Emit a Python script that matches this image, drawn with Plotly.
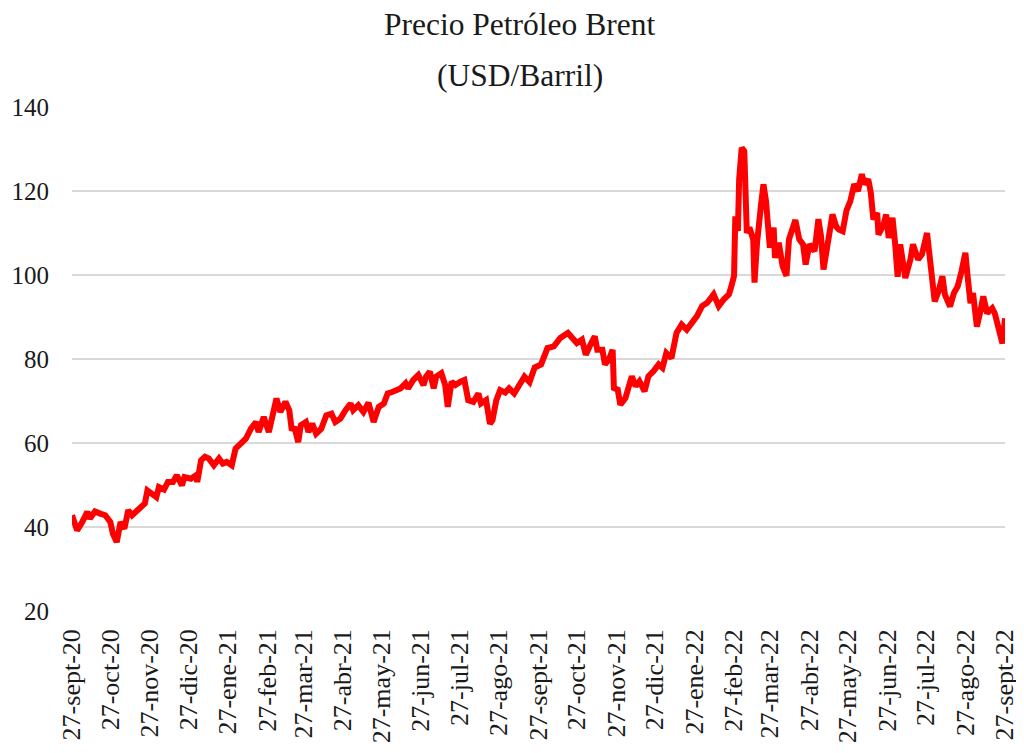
import plotly.graph_objects as go
import pandas as pd

# Brent daily price (day offset from 27-sept-2020, USD/barril)
START = "2020-09-27"
DAY = [0, 4, 8, 12, 14, 18, 22, 26, 30, 32, 35, 38, 41, 44, 47, 53, 57, 59, 66, 68,
       72, 75, 79, 82, 86, 88, 93, 97, 98, 101, 104, 107, 111, 115, 118, 121, 125, 128,
       132, 136, 140, 144, 146, 150, 154, 158, 160, 163, 167, 170, 172, 174, 177, 179,
       183, 185, 188, 191, 195, 199, 203, 206, 210, 214, 218, 220, 224, 228, 232, 236,
       240, 244, 247, 251, 257, 261, 263, 267, 271, 275, 277, 280, 283, 285, 289, 292,
       294, 297, 300, 304, 307, 310, 314, 318, 320, 324, 327, 329, 332, 335, 339, 342,
       346, 350, 354, 358, 362, 367, 372, 377, 382, 388, 391, 395, 399, 402, 405, 409,
       411, 415, 417, 420, 423, 424, 427, 429, 433, 436, 438, 441, 444, 448, 451, 455,
       459, 462, 465, 469, 473, 477, 481, 485, 489, 493, 497, 502, 506, 510, 514, 516,
       518, 519, 521, 522, 524, 526, 528, 530, 533, 534, 536, 539, 541, 543, 546, 549,
       550, 553, 556, 559, 561, 566, 569, 572, 574, 577, 581, 584, 586, 588, 592, 595,
       598, 600, 603, 606, 609, 612, 615, 618, 620, 623, 625, 627, 630, 631, 635, 637,
       639, 642, 644, 646, 648, 652, 656, 658, 662, 665, 669, 672, 675, 678, 681, 683,
       687, 690, 693, 696, 699, 701, 703, 705, 708, 711, 713, 716, 720, 722, 725, 728,
       730]
PRICE = [42.8, 39.2, 41.2, 43.6, 42.0, 43.7, 43.2, 42.8, 41.2, 38.4, 36.4, 41.2, 39.6,
         44.0, 42.8, 44.4, 45.6, 48.7, 47.1, 49.5, 48.9, 50.7, 50.7, 52.3, 49.9, 51.9,
         51.5, 52.3, 50.7, 55.9, 56.7, 56.3, 54.7, 56.3, 55.1, 55.5, 54.7, 58.7, 59.8,
         61.0, 63.4, 65.0, 62.6, 66.2, 62.6, 68.2, 70.6, 67.4, 69.8, 67.8, 63.0, 63.8,
         60.2, 64.2, 65.0, 62.6, 64.6, 62.2, 63.4, 66.6, 67.0, 65.0, 65.8, 67.8, 69.4,
         67.8, 69.0, 67.4, 69.6, 65.0, 68.6, 69.4, 71.8, 72.2, 73.0, 74.2, 73.0, 75.0,
         76.2, 73.8, 75.8, 77.0, 73.0, 75.8, 76.6, 73.8, 68.6, 74.6, 73.8, 74.6, 75.0,
         70.2, 69.8, 71.8, 69.4, 70.2, 64.6, 65.4, 70.2, 72.6, 72.0, 73.0, 71.8, 73.8,
         75.8, 74.5, 78.0, 78.7, 82.6, 83.0, 85.0, 86.2, 85.0, 83.8, 84.6, 81.0, 83.0,
         85.4, 82.2, 82.2, 78.7, 79.8, 82.2, 73.1, 72.7, 69.1, 70.7, 74.7, 75.9, 73.5,
         74.7, 72.3, 75.9, 77.1, 78.7, 77.9, 81.4, 80.2, 86.2, 88.2, 87.0, 88.6, 90.2,
         92.6, 93.4, 95.4, 92.6, 94.2, 95.4, 97.4, 99.8, 114.0, 110.5, 122.8, 130.3,
         129.5, 110.0, 111.3, 108.5, 98.2, 107.7, 116.4, 121.6, 117.6, 106.5, 111.3,
         104.1, 107.7, 102.1, 99.8, 108.5, 113.1, 108.5, 107.3, 102.5, 107.3, 105.7,
         113.3, 109.3, 101.3, 108.1, 114.4, 111.5, 110.8, 110.4, 115.4, 117.6, 121.6,
         120.0, 124.0, 121.6, 122.8, 119.6, 113.2, 114.8, 109.6, 112.0, 114.4, 108.8,
         113.6, 107.6, 99.6, 107.3, 99.3, 103.7, 107.3, 103.7, 104.9, 110.0, 101.3,
         93.7, 96.1, 99.7, 95.3, 92.5, 95.7, 97.3, 100.9, 105.3, 98.9, 93.3, 95.7, 87.7,
         91.7, 94.9, 90.9, 92.1, 90.9, 86.9, 83.7, 89.7]

TICK_DATES = ["2020-09-27", "2020-10-27", "2020-11-27", "2020-12-27", "2021-01-27",
              "2021-02-27", "2021-03-27", "2021-04-27", "2021-05-27", "2021-06-27",
              "2021-07-27", "2021-08-27", "2021-09-27", "2021-10-27", "2021-11-27",
              "2021-12-27", "2022-01-27", "2022-02-27", "2022-03-27", "2022-04-27",
              "2022-05-27", "2022-06-27", "2022-07-27", "2022-08-27", "2022-09-27"]
TICK_TEXT = ["27-sept-20", "27-oct-20", "27-nov-20", "27-dic-20", "27-ene-21",
             "27-feb-21", "27-mar-21", "27-abr-21", "27-may-21", "27-jun-21",
             "27-jul-21", "27-ago-21", "27-sept-21", "27-oct-21", "27-nov-21",
             "27-dic-21", "27-ene-22", "27-feb-22", "27-mar-22", "27-abr-22",
             "27-may-22", "27-jun-22", "27-jul-22", "27-ago-22", "27-sept-22"]
Y_TICKS = [20, 40, 60, 80, 100, 120, 140]

FONT = "Liberation Serif, DejaVu Serif, serif"
INK = '#1a1a1a'

dates = pd.Timestamp(START) + pd.to_timedelta(DAY, unit="D")

fig = go.Figure()
fig.add_trace(go.Scatter(
    x=dates, y=PRICE,
    mode='lines',
    line=dict(color='#ff0000', width=6),
    hoverinfo='x+y'
))

# two-line title as separate annotations (wide line gap like the original)
for txt, ypos in [("Precio Petróleo Brent", 1.163), ("(USD/Barril)", 1.063)]:
    fig.add_annotation(x=0.48, y=ypos, xref='paper', yref='paper',
                       text=txt, showarrow=False,
                       xanchor='center', yanchor='middle',
                       font=dict(family=FONT, size=31.5, color=INK))

# sized so the page (with the 8px body margin) does not scroll;
# right margin leaves room for the last rotated date label
fig.update_layout(
    width=1016, height=737,
    paper_bgcolor='white', plot_bgcolor='white',
    showlegend=False,
    margin=dict(l=64, r=19, t=99, b=134, autoexpand=False),
    font=dict(family=FONT, color=INK),
    xaxis=dict(
        range=[TICK_DATES[0], TICK_DATES[-1]],
        tickmode='array', tickvals=TICK_DATES, ticktext=TICK_TEXT,
        tickangle=-90, showgrid=False, zeroline=False, showline=False,
        tickfont=dict(family=FONT, size=26, color=INK),
        ticks='', ticklabelstandoff=12, automargin=False,
        ticklabeloverflow='allow'
    ),
    yaxis=dict(
        range=[20, 140], tickmode='array', tickvals=Y_TICKS,
        showgrid=True, gridcolor='#d9d9d9', gridwidth=2,
        zeroline=False, showline=False, ticks='',
        tickfont=dict(family=FONT, size=25, color=INK),
        ticklabelstandoff=22, automargin=False
    )
)

fig.write_html("out.html")
